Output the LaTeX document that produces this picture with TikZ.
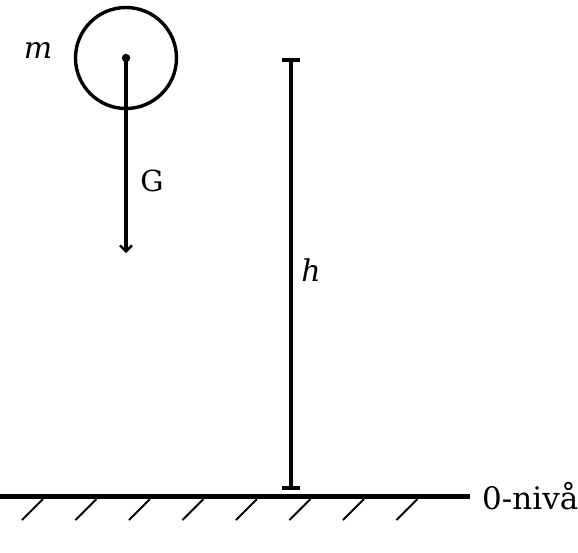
\documentclass[tikz,border=0pt]{standalone}
\usepackage{fontspec}
\setmainfont{DejaVu Serif}
\usetikzlibrary{arrows.meta}
\begin{document}
\begin{tikzpicture}[x=1pt,y=-1pt,
  thick line/.style={line width=3.2pt},
  hatch/.style={line width=2pt},
  lbl/.style={inner sep=0pt}]
\useasboundingbox (0,0) rectangle (578,552);
% ball
\node[circle,draw,line width=3.4pt,minimum size=101pt,inner sep=0pt] (ball) at (126,58) {};
\fill (ball.center) circle (4.2pt);
\node[lbl,font=\fontsize{30}{34}\selectfont\itshape] (m) at (38,50) {m};
% gravity arrow
\coordinate (gend) at (126,253);
\draw[thick line,-{Straight Barb[length=6pt,width=12pt,line width=2.4pt]}] (ball.center) -- (gend);
\node[lbl,font=\fontsize{29}{32}\selectfont] (G) at (152,181) {G};
% height bar
\coordinate (htop) at (291,60);
\coordinate (hbot) at (291,488);
\draw[line width=3.6pt] (htop) -- (hbot);
\draw[line width=3.6pt] (282,60) -- (300,60);
\draw[line width=3.6pt] (282,488) -- (300,488);
\node[lbl,font=\fontsize{30}{34}\selectfont\itshape] (h) at (311,270) {h};
% ground
\coordinate (gl) at (0,496.5);
\coordinate (gr) at (470,496.5);
\draw[line width=4.8pt] (gl) -- (gr);
\foreach \x in {43,96.5,150,203.5,257,310.5,364,417.5}
  \draw[hatch] (\x,499) -- (\x-21,520);
\node[lbl,anchor=west,font=\fontsize{31}{34}\selectfont] (zero) at (482,496) {0-nivå};
\end{tikzpicture}
\end{document}
